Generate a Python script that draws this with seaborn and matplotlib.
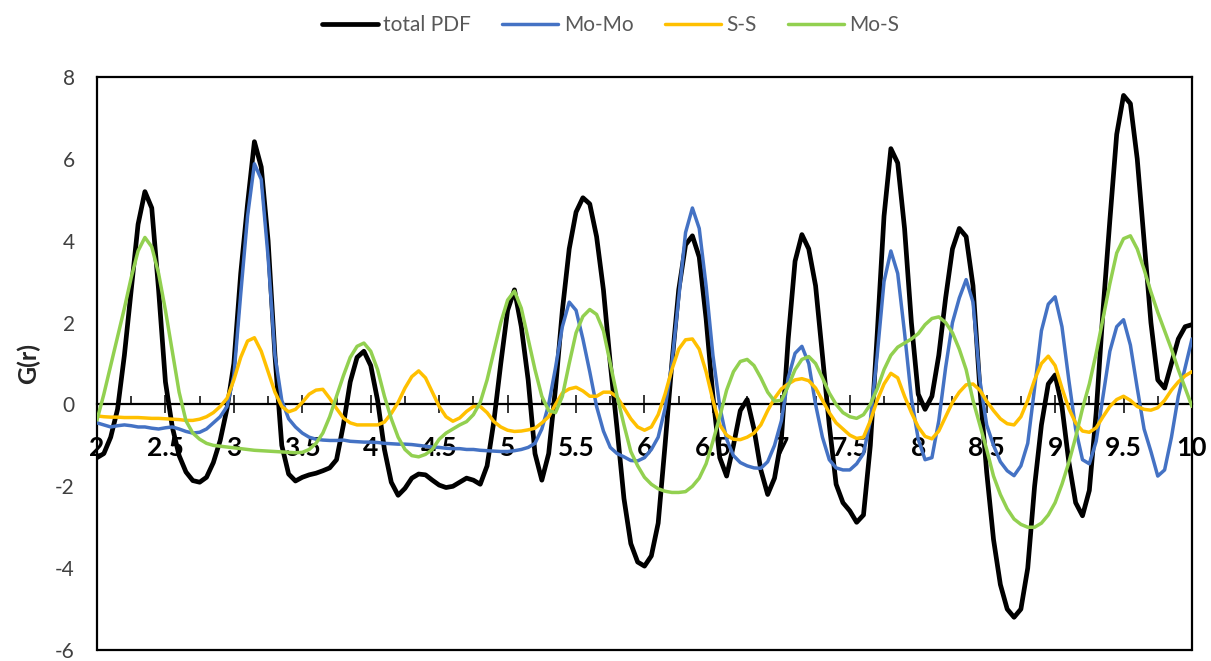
import numpy as np
import pandas as pd
import matplotlib
matplotlib.use("Agg")
import matplotlib.pyplot as plt
import seaborn as sns

# r grid (step 0.05 from 2 to 10)
r = np.linspace(2, 10, 161)

total_pdf = [
    -1.3, -1.2, -0.8, -0.12, 1.2, 2.8, 4.4, 5.2, 4.8, 2.8,
    0.55, -0.55, -1.25, -1.65, -1.86, -1.9, -1.78, -1.42, -0.88, -0.1,
    1.0, 3.2, 4.9, 6.42, 5.8, 4.0, 1.2, -1.0, -1.7, -1.87,
    -1.78, -1.72, -1.68, -1.62, -1.55, -1.35, -0.5, 0.55, 1.15, 1.3,
    0.95, 0.1, -1.1, -1.9, -2.22, -2.05, -1.8, -1.7, -1.72, -1.85,
    -1.97, -2.03, -2.0, -1.9, -1.8, -1.85, -1.95, -1.5, -0.4, 1.0,
    2.3, 2.8, 1.9, 0.6, -1.2, -1.85, -1.2, 0.4, 2.3, 3.8,
    4.7, 5.05, 4.9, 4.1, 2.8, 1.0, -0.6, -2.3, -3.4, -3.85,
    -3.95, -3.7, -2.9, -1.0, 1.0, 2.8, 3.9, 4.12, 3.6, 2.1,
    0.2, -1.3, -1.75, -1.0, -0.15, 0.12, -0.6, -1.6, -2.2, -1.8,
    -0.85, 1.6, 3.5, 4.15, 3.8, 2.9, 1.2, -0.5, -1.95, -2.4,
    -2.6, -2.88, -2.7, -1.0, 1.7, 4.6, 6.25, 5.9, 4.3, 2.0,
    0.25, -0.12, 0.2, 1.2, 2.6, 3.8, 4.3, 4.1, 2.9, 0.4,
    -1.65, -3.3, -4.4, -5.0, -5.2, -5.0, -4.0, -2.0, -0.5, 0.5,
    0.72, -0.05, -1.4, -2.4, -2.72, -2.1, -0.2, 2.3, 4.5, 6.6,
    7.55, 7.35, 6.0, 4.0, 2.0, 0.6, 0.4, 1.0, 1.6, 1.9,
    1.95,
]

mo_mo = [
    -0.45, -0.5, -0.55, -0.52, -0.5, -0.52, -0.55, -0.55, -0.58, -0.6,
    -0.57, -0.55, -0.6, -0.66, -0.7, -0.68, -0.6, -0.45, -0.3, -0.05,
    0.7, 2.7, 4.6, 5.88, 5.5, 3.6, 1.2, 0.1, -0.35, -0.55,
    -0.7, -0.8, -0.85, -0.87, -0.88, -0.88, -0.87, -0.9, -0.91, -0.92,
    -0.92, -0.93, -0.95, -0.96, -0.97, -0.97, -0.98, -1.0, -1.02, -1.04,
    -1.05, -1.07, -1.08, -1.08, -1.1, -1.1, -1.12, -1.13, -1.14, -1.15,
    -1.15, -1.13, -1.1, -1.05, -0.95, -0.6, 0.0, 0.9, 1.9, 2.5,
    2.3, 1.6, 0.8, -0.05, -0.65, -1.05, -1.2, -1.28, -1.37, -1.38,
    -1.3, -1.1, -0.8, -0.1, 1.0, 2.6, 4.2, 4.8, 4.3, 2.9,
    1.2, -0.05, -0.85, -1.25, -1.42, -1.5, -1.55, -1.56, -1.4, -1.0,
    -0.4, 0.65, 1.25, 1.42, 1.0, 0.0, -0.8, -1.35, -1.55, -1.6,
    -1.6, -1.45, -1.2, -0.4, 1.2, 3.0, 3.75, 3.2, 1.75, 0.15,
    -0.85, -1.35, -1.3, -0.4, 0.9, 2.0, 2.6, 3.05, 2.5, 0.6,
    -0.5, -1.0, -1.4, -1.62, -1.74, -1.5, -0.95, 0.4, 1.8, 2.45,
    2.63, 1.9, 0.6, -0.6, -1.35, -1.45, -0.9, 0.2, 1.3, 1.9,
    2.07, 1.45, 0.4, -0.6, -1.15, -1.75, -1.6, -0.8, 0.2, 0.9,
    1.6,
]

s_s = [
    -0.28, -0.3, -0.31, -0.31, -0.32, -0.32, -0.32, -0.33, -0.34, -0.34,
    -0.35, -0.36, -0.37, -0.39, -0.39, -0.36, -0.3, -0.2, -0.05, 0.15,
    0.6, 1.15, 1.55, 1.63, 1.3, 0.8, 0.3, -0.05, -0.18, -0.12,
    0.05, 0.25, 0.35, 0.37, 0.15, -0.1, -0.33, -0.45, -0.5, -0.5,
    -0.5, -0.5, -0.43, -0.22, 0.05, 0.4, 0.68, 0.82, 0.65, 0.3,
    -0.05, -0.3, -0.41, -0.33, -0.17, -0.05, -0.05, -0.2, -0.42, -0.55,
    -0.63, -0.66, -0.65, -0.62, -0.58, -0.45, -0.3, 0.0, 0.28, 0.38,
    0.42, 0.33, 0.2, 0.2, 0.3, 0.3, 0.18, -0.08, -0.35, -0.55,
    -0.63, -0.55, -0.25, 0.25, 0.85, 1.35, 1.58, 1.6, 1.35, 0.8,
    0.1, -0.5, -0.75, -0.85, -0.86, -0.8, -0.7, -0.5, -0.15, 0.15,
    0.38, 0.5, 0.6, 0.63, 0.58, 0.4, 0.1, -0.2, -0.45, -0.6,
    -0.75, -0.83, -0.8, -0.4, 0.1, 0.5, 0.76, 0.65, 0.2, -0.2,
    -0.55, -0.78, -0.84, -0.65, -0.3, 0.05, 0.3, 0.48, 0.5, 0.35,
    0.08, -0.15, -0.35, -0.47, -0.5, -0.3, 0.1, 0.6, 1.0, 1.18,
    0.95, 0.4, -0.1, -0.45, -0.65, -0.68, -0.57, -0.3, -0.05, 0.12,
    0.2, 0.1, -0.05, -0.12, -0.14, -0.08, 0.1, 0.35, 0.55, 0.7,
    0.8,
]

mo_s = [
    -0.38, 0.25, 0.95, 1.65, 2.35, 3.1, 3.75, 4.08, 3.85, 3.2,
    2.3, 1.3, 0.3, -0.4, -0.7, -0.85, -0.95, -1.0, -1.02, -1.04,
    -1.06, -1.08, -1.1, -1.12, -1.13, -1.14, -1.15, -1.16, -1.17, -1.18,
    -1.17, -1.1, -0.95, -0.7, -0.3, 0.2, 0.7, 1.15, 1.42, 1.5,
    1.3, 0.85, 0.2, -0.35, -0.8, -1.1, -1.25, -1.28, -1.22, -1.1,
    -0.85, -0.7, -0.6, -0.5, -0.42, -0.25, 0.05, 0.6, 1.3, 2.0,
    2.55, 2.77, 2.35, 1.6, 0.85, 0.2, -0.15, -0.2, 0.2, 1.0,
    1.75, 2.15, 2.32, 2.2, 1.8, 1.0, 0.2, -0.5, -1.15, -1.5,
    -1.78, -1.95, -2.06, -2.12, -2.15, -2.15, -2.13, -2.0, -1.8, -1.45,
    -0.9, -0.3, 0.35, 0.8, 1.05, 1.1, 0.95, 0.65, 0.3, 0.08,
    0.1, 0.45, 0.85, 1.1, 1.17, 1.0, 0.65, 0.28, 0.0, -0.2,
    -0.3, -0.34, -0.25, 0.0, 0.38, 0.85, 1.2, 1.4, 1.5, 1.6,
    1.73, 1.95, 2.1, 2.14, 2.0, 1.75, 1.35, 0.85, 0.1, -0.5,
    -1.1, -1.75, -2.2, -2.55, -2.8, -2.93, -3.0, -3.0, -2.9, -2.7,
    -2.4, -1.95, -1.42, -0.8, -0.1, 0.5, 1.25, 2.1, 2.95, 3.7,
    4.05, 4.12, 3.8, 3.3, 2.75, 2.25, 1.8, 1.35, 0.85, 0.4,
    -0.05,
]

series_names = ["total PDF", "Mo-Mo", "S-S", "Mo-S"]
series_values = [total_pdf, mo_mo, s_s, mo_s]
colors = ["#000000", "#4472C4", "#FFC000", "#92D050"]
widths = [3.4, 2.5, 2.5, 2.5]

sns.set_style("white")
plt.rcParams["font.family"] = ["Lato", "DejaVu Sans"]
plt.rcParams["axes.unicode_minus"] = False

fig = plt.figure(figsize=(12.11, 6.61), dpi=100)
ax = fig.add_axes([0.0801, 0.0166, 0.9042, 0.8669])

for name, vals, c, lw in zip(series_names, series_values, colors, widths):
    df = pd.DataFrame({"r": r, "G": vals})
    sns.lineplot(data=df, x="r", y="G", ax=ax, color=c, linewidth=lw,
                 label=name, estimator=None, sort=False, zorder=3,
                 solid_joinstyle="round", solid_capstyle="round")

ax.set_xlim(2, 10)
ax.set_ylim(-6, 8)

# frame + x axis crossing at y = 0
for side in ["left", "right", "top", "bottom"]:
    ax.spines[side].set_color("black")
    ax.spines[side].set_linewidth(1.6)
    ax.spines[side].set_visible(True)
ax.spines["bottom"].set_position(("data", 0))
ax.axhline(-6, color="black", lw=1.6, clip_on=False, zorder=2.5)

xt = np.arange(2, 10.01, 0.5)
ax.set_xticks(xt)
ax.set_xticklabels([f"{v:g}" for v in xt], fontweight="bold")
ax.set_xticks(np.arange(2.25, 10, 0.5), minor=True)
ax.tick_params(axis="x", which="major", direction="inout", length=13, width=1.3,
               pad=16, labelsize=19, labelcolor="black", bottom=True)
ax.tick_params(axis="x", which="minor", direction="in", length=6, width=1.3, bottom=True)

ax.set_yticks(range(-6, 9, 2))
ax.tick_params(axis="y", length=0, pad=16, labelsize=15, labelcolor="#404040")

ax.set_xlabel("")
ax.set_ylabel("G(r)", fontsize=18, fontweight="bold", color="#262626")
ax.yaxis.set_label_coords(-0.052, 0.5)

handles, labels = ax.get_legend_handles_labels()
ax.get_legend().remove()
fig.legend(handles, labels, loc="center", bbox_to_anchor=(0.504, 0.962), ncol=4,
           frameon=False, fontsize=15, handlelength=2.7, handletextpad=0.25,
           columnspacing=1.5, labelcolor="#595959")

fig.savefig("out.png", dpi=100)
